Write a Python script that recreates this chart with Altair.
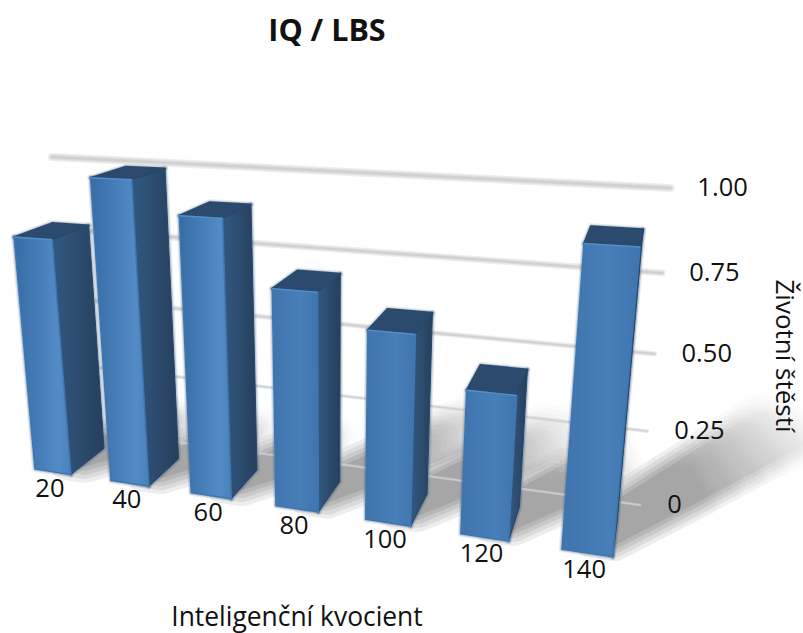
import altair as alt
import pandas as pd

# Chart content
title_text = "IQ / LBS"
x_title = "Inteligenční kvocient"
y_title = "Životní štěstí"
iq_labels = ["20", "40", "60", "80", "100", "120", "140"]
happiness = [0.80, 1.00, 0.90, 0.70, 0.60, 0.45, 0.89]
y_ticks = [0, 0.25, 0.50, 0.75, 1.00]
y_tick_labels = ["0", "0.25", "0.50", "0.75", "1.00"]

# Perspective camera: category position u, value v and depth d map to the page
BAR_W = 0.48
WALL_D = 1.58
GRID_U0, GRID_U1 = -0.215, 6.69
WALL_SAG = 0.985


def project(u, v, d):
    w = 1 - 0.0262 * u - 0.0827 * v + 0.0563 * d
    px = 35 + 73.1 * u - 27.4 * v + 38.5 * d
    py = 469 - 1.03 * u - 309.5 * v - 0.5 * d
    return [px / w, py / w]


def feature(geom_type, coords):
    return {"type": "Feature", "properties": {}, "geometry": {"type": geom_type, "coordinates": coords}}


def quad(a, b, c, e):
    pts = [a, b, c, e, a]
    return feature("Polygon", [pts])


IDENTITY = alt.Projection(type="identity", scale=1, translate=[0, 0])


def shapes(features, **mark):
    return alt.Chart(alt.Data(values=features)).mark_geoshape(**mark).properties(projection=IDENTITY)


def convex_hull(points):
    pts = sorted(map(tuple, points))

    def half(seq):
        out = []
        for p in seq:
            while len(out) > 1 and (out[-1][0] - out[-2][0]) * (p[1] - out[-2][1]) - (out[-1][1] - out[-2][1]) * (p[0] - out[-2][0]) <= 0:
                out.pop()
            out.append(p)
        return out[:-1]

    hull = half(pts) + half(pts[::-1])
    return [list(p) for p in hull + hull[:1]]


def shadow_shape(factor):
    """Union of the bars' footprints swept along the light direction."""
    polys = []
    for i, val in enumerate(happiness):
        if i == len(happiness) - 1:
            reach = val
        elif i < 3:
            reach = min(val, 0.3)
        else:
            reach = min(val, 0.62)
        reach *= factor
        corners = []
        for u in (i + 0.25, i + BAR_W):
            # The swept end is kept wide while the base stays under the bar
            corners.append(project(u, 0, 0.4))
            corners.append(project(u, 0, 1.0))
            corners.append(project(u + 2.35 * reach, 0, 0.3 + 5.0 * reach))
            corners.append(project(u + 2.0 * reach, 0, 1.0 + 5.2 * reach))
        polys.append([convex_hull(corners)])
    return [feature("MultiPolygon", polys)]


# Translucent copies of varying length and width build up the soft shadow
layers = []
for factor in (0.4, 0.52, 0.64, 0.76, 0.88, 1.0):
    for spread in (6, 14, 22, 30, 38):
        layers.append(shapes(shadow_shape(factor), fill="#000000", stroke="#000000", opacity=0.0085,
                             strokeWidth=spread, strokeJoin="round"))

# Gridlines on the back wall, pale enough to show lighter than the shadow beneath
for tick in y_ticks:
    line = [project(GRID_U0, tick, WALL_D), project(GRID_U1, tick * WALL_SAG, WALL_D)]
    f = [feature("LineString", line)]
    layers.append(shapes(f, filled=False, stroke="#dcdcdc", strokeWidth=2.5 + 5.5 * tick, strokeCap="round", opacity=0.5))
    layers.append(shapes(f, filled=False, stroke="#d4d4d4", strokeWidth=1.2 + 3.8 * tick, strokeCap="round", opacity=0.6))
    layers.append(shapes(f, filled=False, stroke="#cccccc", strokeWidth=0.5 + 2 * tick, strokeCap="round", opacity=0.7))

front_strong = alt.Gradient(gradient="linear", x1=0, x2=1, y1=0, y2=0, stops=[
    alt.GradientStop(offset=0, color="#376ca6"),
    alt.GradientStop(offset=0.78, color="#528bc6"),
    alt.GradientStop(offset=1, color="#4a82bc"),
])
front_soft = alt.Gradient(gradient="linear", x1=0, x2=1, y1=0, y2=0, stops=[
    alt.GradientStop(offset=0, color="#3f74ad"),
    alt.GradientStop(offset=0.6, color="#487fb8"),
    alt.GradientStop(offset=1, color="#3f75ae"),
])
side_fill = alt.Gradient(gradient="linear", x1=0, x2=1, y1=0, y2=0, stops=[
    alt.GradientStop(offset=0, color="#325880"),
    alt.GradientStop(offset=1, color="#263f5d"),
])

# Bars, left to right: top, side, front and the lit edge along the front's top
for i, val in enumerate(happiness):
    u0, u1 = i, i + BAR_W
    top = quad(project(u0, val, 0), project(u1, val, 0), project(u1, val, 1), project(u0, val, 1))
    side = quad(project(u1, 0, 0), project(u1, val, 0), project(u1, val, 1), project(u1, 0, 1))
    front = quad(project(u0, 0, 0), project(u1, 0, 0), project(u1, val, 0), project(u0, val, 0))
    edge = feature("LineString", [project(u0, val, 0), project(u1, val, 0)])
    face_fill = front_strong if i < 3 else front_soft

    for halo_width, halo_opacity in ((6, 0.12), (3.5, 0.25)):
        layers.append(shapes([top, side, front], fill="#3a5f88", stroke="#3a5f88", opacity=halo_opacity,
                             strokeWidth=halo_width, strokeJoin="round"))
    layers.append(shapes([top], fill="#2b4a6e", stroke="#2b4a6e", strokeWidth=2, strokeJoin="round"))
    layers.append(shapes([side], fill=side_fill, stroke="#294566", strokeWidth=1, strokeJoin="round"))
    layers.append(shapes([front], fill=face_fill, stroke="#4076b0", strokeWidth=1.5, strokeJoin="round"))
    layers.append(shapes([edge], filled=False, stroke="#5c9ddb", strokeWidth=1.4, opacity=0.7))

FONT = "Open Sans"
x_px = alt.X("px:Q", scale=None, axis=None)
y_px = alt.Y("py:Q", scale=None, axis=None)

# Category labels beneath each bar's front edge
cat_pts = [project(i + BAR_W / 2, 0, 0) for i in range(len(iq_labels))]
cat_df = pd.DataFrame({"px": [p[0] for p in cat_pts], "py": [p[1] for p in cat_pts], "label": iq_labels})
layers.append(alt.Chart(cat_df).mark_text(font=FONT, fontSize=25.5, color="#111111", dx=-3, dy=17, align="center", baseline="middle")
              .encode(x=x_px, y=y_px, text="label:N"))

# Value labels to the right of the gridlines
tick_pts = [project(GRID_U1, t * WALL_SAG, WALL_D) for t in y_ticks]
tick_df = pd.DataFrame({"px": [p[0] for p in tick_pts], "py": [p[1] for p in tick_pts], "label": y_tick_labels})
layers.append(alt.Chart(tick_df).mark_text(font=FONT, fontSize=25.5, color="#111111", dx=27, align="left", baseline="middle")
              .encode(x=x_px, y=y_px, text="label:N"))

# Chart title and the two axis titles
title_df = pd.DataFrame({"px": [327], "py": [32], "label": [title_text]})
layers.append(alt.Chart(title_df).mark_text(font=FONT, fontSize=30.5, fontWeight="bold", color="#111111", align="center", baseline="middle")
              .encode(x=x_px, y=y_px, text="label:N"))
xt_df = pd.DataFrame({"px": [297], "py": [618], "label": [x_title]})
layers.append(alt.Chart(xt_df).mark_text(font=FONT, fontSize=26.4, color="#111111", align="center", baseline="middle")
              .encode(x=x_px, y=y_px, text="label:N"))
yt_df = pd.DataFrame({"px": [784], "py": [356], "label": [y_title]})
layers.append(alt.Chart(yt_df).mark_text(font=FONT, fontSize=26, color="#111111", angle=90, align="center", baseline="middle")
              .encode(x=x_px, y=y_px, text="label:N"))

chart = (
    alt.layer(*layers)
    .properties(width=803, height=633, padding=0, autosize=alt.AutoSizeParams(type="none"), background="white")
    .configure_view(stroke=None)
)
chart.save("out.html", embed_options={"renderer": "svg", "actions": False})
